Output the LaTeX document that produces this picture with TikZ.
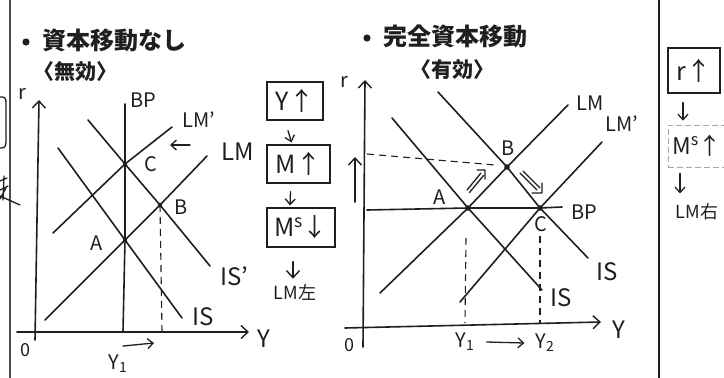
\documentclass[tikz,border=0pt]{standalone}
\usepackage{fontspec}
\setmainfont{Noto Sans CJK JP}
\usetikzlibrary{arrows.meta}
\definecolor{ink}{gray}{0.12}
\begin{document}
\begin{tikzpicture}[x=1pt,y=-1pt,
  pen/.style={draw=ink, line width=1.6pt, line cap=round, line join=round},
  thin/.style={draw=ink, line width=1.3pt, line cap=round, line join=round},
  barb/.style={-{Straight Barb[length=7pt,width=13pt,line width=1.4pt]}},
  sbarb/.style={-{Straight Barb[length=5.5pt,width=10pt,line width=1.3pt]}},
  dashln/.style={draw=ink, line width=1.1pt, dash pattern=on 7pt off 5pt},
  border/.style={draw=black!70, line width=2.5pt},
  lab/.style={inner sep=0pt, text=ink, font=\fontsize{20}{20}\selectfont},
  biglab/.style={inner sep=0pt, text=ink, font=\fontsize{24}{24}\selectfont},
  title/.style={inner sep=0pt, anchor=west, text=ink, font=\bfseries\fontsize{24}{24}\selectfont},
  sub/.style={inner sep=0pt, anchor=west, text=ink, font=\bfseries\fontsize{21}{21}\selectfont},
  stepbox/.style={draw=ink, line width=1.3pt, inner sep=0pt, text=ink, font=\fontsize{25}{25}\selectfont},
  faintbox/.style={draw=black!35, line width=1pt, dash pattern=on 6pt off 3pt, inner sep=0pt, text=ink, font=\fontsize{23}{23}\selectfont},
  note/.style={inner sep=0pt, text=ink, font=\fontsize{18}{18}\selectfont}
]
\useasboundingbox[fill=white] (0,0) rectangle (724,378);

% page borders and margin fragments
\draw[border] (10,0) -- (10,378);
\draw[border, draw=ink, line width=2pt] (659,0) -- (659,378);
\draw[thin] (0,97) -- (2,97) .. controls (6,97) and (6,100) .. (6,104) -- (6,141) .. controls (6,146) and (5,148) .. (1,148) -- (0,148);
\draw[thin] (0,181) -- (7,178) (0,190) -- (8,186) (4,176) -- (3,200) (0,196) -- (20,205) (6,188) -- (0,199);

% ================= left graph =================
\node[title] (t1) at (42,40) {資本移動なし};
\fill[ink] (26,42) circle (3.6pt);
\node[sub] (s1) at (33,72) {〈無効〉};

\coordinate (LvB) at (35,340); \coordinate (LvT) at (39,100);
\coordinate (LhL) at (17,332); \coordinate (LhR) at (249,332);
\draw[pen, barb] (LvB) -- (LvT);
\draw[pen, barb] (LhL) -- (LhR);
\node[lab] (Lr) at (22,94) {r};
\node[biglab] (LY) at (264,339) {Y};
\node[note] (L0) at (25,350) {0};

\coordinate (LA) at (125,240);
\coordinate (LB) at (160,205);
\coordinate (LC) at (125,164);

\coordinate (LbpT) at (125,104); \coordinate (LbpB) at (123,332);
\draw[pen] (LbpT) -- (LC) -- (LA) -- (LbpB);
\node[lab] (Lbp) at (143,100) {BP};

\coordinate (Llm1) at (45,320); \coordinate (Llm2) at (207,156);
\draw[pen] (Llm1) -- (LA) -- (LB) -- (Llm2);
\node[biglab] (Llm) at (238,152) {LM};

\coordinate (Llmp1) at (53,233); \coordinate (Llmp2) at (172,127);
\draw[pen] (Llmp1) -- (LC) -- (Llmp2);
\node[lab] (Llmp) at (199,120) {LM'};
\coordinate (Larr1) at (190,145); \coordinate (Larr2) at (170,145);
\draw[thin, sbarb] (Larr1) -- (Larr2);

\coordinate (Lis1) at (58,148); \coordinate (Lis2) at (182,318);
\draw[pen] (Lis1) -- (LA) -- (Lis2);
\node[biglab] (Lis) at (203,317) {IS};

\coordinate (Lisp1) at (88,120); \coordinate (Lisp2) at (210,266);
\draw[pen] (Lisp1) -- (LC) -- (LB) -- (Lisp2);
\node[biglab] (Lisp) at (234,276) {IS'};

\coordinate (LBd) at (162,332);
\draw[dashln] (LB) -- (LBd);

\fill[ink] (LA) circle (2.2pt) (LB) circle (2.2pt) (LC) circle (2.2pt);
\node[lab] (LAl) at (97,243) {A};
\node[lab] (LBl) at (181,207) {B};
\node[lab] (LCl) at (151,164) {C};

\node[lab] (LY1) at (118,364) {Y\textsubscript{1}};
\coordinate (Lya1) at (123,346); \coordinate (Lya2) at (154,343);
\draw[thin, sbarb] (Lya1) -- (Lya2);

% middle steps
\node[stepbox, minimum width=56pt, minimum height=38pt] (yup) at (295,101) {Y↑};
\node[stepbox, minimum width=63pt, minimum height=38pt] (mup) at (298.5,164) {M↑};
\node[stepbox, minimum width=68pt, minimum height=39pt] (msdn) at (301,227.5) {M\textsuperscript{s}↓};
\node[note] (lml) at (295,292) {LM左};
\draw[thin, sbarb] ([xshift=-7pt,yshift=-10pt]yup.south) -- ([xshift=-7pt,yshift=2pt]mup.north);
\draw[thin, sbarb] ([xshift=-8pt,yshift=-8pt]mup.south) -- ([xshift=-11pt,yshift=2pt]msdn.north);
\draw[pen, line width=1.4pt, -{Straight Barb[length=7pt,width=13pt,line width=1.4pt]}] ([xshift=-8pt,yshift=-14pt]msdn.south) -- ([xshift=-8pt,yshift=-31pt]msdn.south);

% ================= right graph =================
\node[title] (t2) at (383,36) {完全資本移動};
\fill[ink] (367,38) circle (3.6pt);
\node[sub] (s2) at (410,70) {〈有効〉};

\coordinate (RvB) at (363,347); \coordinate (RvT) at (365,80);
\coordinate (RhL) at (345,328); \coordinate (RhR) at (601,322);
\draw[pen, barb] (RvB) -- (RvT);
\draw[pen, barb] (RhL) -- (RhR);
\node[lab] (Rr) at (344,82) {r};
\node[biglab] (RY) at (619,330) {Y};
\node[note] (R0) at (349,345) {0};

\coordinate (RA) at (468,208);
\coordinate (RB) at (507,167);
\coordinate (RC) at (540,208);

\coordinate (Rbp1) at (367,210); \coordinate (Rbp2) at (562,207);
\draw[pen] (Rbp1) -- (RA) -- (RC) -- (Rbp2);
\node[lab] (Rbp) at (584,212) {BP};

\coordinate (Rlm1) at (380,293); \coordinate (Rlm2) at (568,105);
\draw[pen] (Rlm1) -- (RA) -- (RB) -- (Rlm2);
\node[lab] (Rlm) at (590,103) {LM};

\coordinate (Rlmp1) at (460,302); \coordinate (Rlmp2) at (602,142);
\draw[pen] (Rlmp1) -- (RC) -- (Rlmp2);
\node[lab] (Rlmp) at (622,124) {LM'};

\coordinate (Ris1) at (392,118); \coordinate (Ris2) at (542,290);
\draw[pen] (Ris1) -- (RA) -- (Ris2);
\node[biglab] (Ris) at (561,298) {IS};

\coordinate (Risp1) at (438,92); \coordinate (Risp2) at (588,258);
\draw[pen] (Risp1) -- (RB) -- (RC) -- (Risp2);
\node[biglab] (Risp) at (607,272) {IS};

\coordinate (RAd) at (465,323); \coordinate (RCd) at (540,323);
\coordinate (RAd0) at (466,238); \coordinate (RCd0) at (540,236);
\draw[dashln] (RAd0) -- (RAd);
\draw[dashln] (RCd0) -- (RCd);
\coordinate (Rh0) at (367,154); \coordinate (Rh1) at (495,165);
\draw[dashln] (Rh0) -- (Rh1);

\coordinate (Rup1) at (355,202); \coordinate (Rup2) at (355,157);
\draw[pen, barb] (Rup1) -- (Rup2);

% double arrows
\draw[thin] (467,190) -- (481,173) (469.5,192.5) -- (483.5,175.5) (477,170) -- (485,170) -- (485,179);
\draw[thin] (520,173) -- (537,190) (523,171) -- (540,188) (542,183) -- (542,193) -- (532,193);

\fill[ink] (RA) circle (2.8pt) (RB) circle (2.8pt) (RC) circle (2.8pt);
\node[lab] (RAl) at (440,197) {A};
\node[lab] (RBl) at (508,148) {B};
\node[lab] (RCl) at (541,224) {C};

\node[lab] (RY1) at (465,342) {Y\textsubscript{1}};
\node[lab] (RY2) at (545,343) {Y\textsubscript{2}};
\draw[thin, sbarb] ([xshift=12pt]RY1.east) -- ([xshift=-11pt]RY2.west);

% right panel
\node[stepbox, minimum width=52pt, minimum height=45pt] (rup) at (694,70.5) {r↑};
\node[faintbox, minimum width=58pt, minimum height=42pt] (msup) at (697,146) {M\textsuperscript{s}↑};
\node[note] (lmr) at (697,212) {LM右};
\draw[thin, sbarb] ([xshift=-11pt,yshift=-9pt]rup.south) -- ([xshift=-11pt,yshift=-27pt]rup.south);
\draw[thin, sbarb] ([xshift=-17pt,yshift=-6pt]msup.south) -- ([xshift=-17pt,yshift=-26pt]msup.south);
\end{tikzpicture}
\end{document}
